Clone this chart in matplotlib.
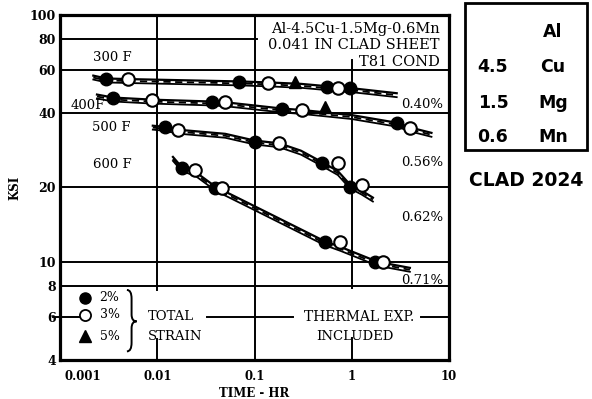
import numpy as np
import matplotlib.pyplot as plt
from matplotlib.path import Path
from matplotlib.patches import PathPatch

# stress-rupture style curves, time in hours vs stress in ksi
# line knots for each temperature
t_300 = [0.0022, 0.003, 0.005, 0.07, 0.14, 0.3, 0.72, 1.0, 2.9]
s_300 = [56.8, 55.3, 55.0, 53.8, 53.3, 52.6, 51.0, 50.5, 48.2]
t_400 = [0.0024, 0.0035, 0.0088, 0.037, 0.05, 0.19, 0.31, 1.0, 2.9, 4.0, 6.6]
s_400 = [47.6, 46.3, 45.4, 44.6, 44.3, 41.8, 41.2, 39.3, 36.6, 35.0, 33.3]
t_500 = [0.009, 0.012, 0.0163, 0.05, 0.1, 0.18, 0.3, 0.49, 0.72, 0.955, 1.27, 1.65]
s_500 = [35.6, 35.2, 34.3, 33.0, 31.0, 30.2, 28.2, 25.4, 23.3, 20.6, 19.4, 18.2]
t_600 = [0.0145, 0.018, 0.0244, 0.04, 0.1, 0.53, 0.76, 1.73, 2.1, 3.96]
s_600 = [26.6, 24.1, 23.2, 20.1, 16.8, 12.1, 11.5, 10.1, 9.9, 9.45]

# plotted test points (2% filled, 3% open, 5% triangle)
f_t = {'300': [0.003, 0.07, 0.55, 0.955], '400': [0.0035, 0.0365, 0.19, 2.9],
       '500': [0.012, 0.10, 0.49, 0.955], '600': [0.0179, 0.039, 0.528, 1.73]}
f_s = {'300': [55.0, 53.6, 51.1, 50.6], '400': [46.1, 44.5, 41.6, 36.5],
       '500': [35.2, 30.6, 25.2, 20.1], '600': [23.9, 19.9, 12.0, 10.0]}
o_t = {'300': [0.005, 0.137, 0.72], '400': [0.0088, 0.05, 0.31, 3.96],
       '500': [0.0163, 0.18, 0.72, 1.27], '600': [0.0244, 0.0462, 0.755, 2.09]}
o_s = {'300': [54.8, 53.1, 50.6], '400': [45.3, 44.5, 41.2, 34.9],
       '500': [34.2, 30.3, 25.2, 20.5], '600': [23.6, 19.9, 12.0, 10.0]}
tri_t = {'300': [0.26], '400': [0.53]}
tri_s = {'300': [53.6], '400': [42.4]}

temp_labels = ['300 F', '400F', '500 F', '600 F']
strain_labels = ['0.40%', '0.56%', '0.62%', '0.71%']
x_ticks = [0.001, 0.01, 0.1, 1, 10]
x_labels = ['0.001', '0.01', '0.1', '1', '10']
y_ticks = [4, 6, 8, 10, 20, 40, 60, 80, 100]
y_labels = ['4', '6', '8', '10', '20', '40', '60', '80', '100']

serif = 'DejaVu Serif'
fig = plt.figure(figsize=(5.92, 3.99), dpi=100)
ax = fig.add_axes([60/592, 1-360/399, 389/592, 345/399])
ax.set_xscale('log')
ax.set_yscale('log')
ax.set_xlim(0.001, 10)
ax.set_ylim(4, 100)
ax.minorticks_off()
ax.set_xticks(x_ticks)
ax.set_xticklabels([''] + x_labels[1:], family=serif, fontsize=8.5, fontweight='bold')
ax.set_yticks(y_ticks)
ax.set_yticklabels(y_labels, family=serif, fontsize=9, fontweight='bold')
ax.tick_params(axis='x', length=0, pad=7)
ax.tick_params(axis='y', length=0, pad=3)
# first x label sits inside the left edge
ax.text(0.00112, -0.028, x_labels[0], transform=ax.get_xaxis_transform(),
	ha='left', va='top', family=serif, fontsize=8.5, fontweight='bold')
for sp in ax.spines.values():
	sp.set_linewidth(2.3)

# grid (partly broken by the text blocks)
gl = dict(color='black', lw=1.4, zorder=1)
for yv in [8, 10, 20, 40, 60]:
	ax.axhline(yv, **gl)
ax.axhline(80, xmax=0.506, **gl)
ax.axvline(0.1, **gl)
ax.plot([0.01, 0.01], [4, 4.85], **gl)
ax.plot([0.01, 0.01], [7.7, 100], **gl)
ax.plot([1, 1], [4, 4.9], **gl)
ax.plot([1, 1], [7.8, 66], **gl)
ax.plot([0.00085, 0.00155], [6, 6], clip_on=False, **gl)
ax.plot([0.0325, 0.25], [6, 6], **gl)
ax.plot([5.1, 10], [6, 6], **gl)

# curves: solid 2%, dashed 3%, solid 5% band
for tt, ss in [(t_300, s_300), (t_400, s_400), (t_500, s_500), (t_600, s_600)]:
	ss = np.array(ss)
	ax.plot(tt, ss, color='black', lw=1.6, zorder=2)
	ax.plot(tt, ss*0.982, color='black', lw=1.3, ls=(0, (4, 2.5)), zorder=2)
	ax.plot(tt, ss*0.964, color='black', lw=1.3, zorder=2)

for key in f_t:
	ax.plot(f_t[key], f_s[key], 'o', ms=9, color='black', zorder=3)
	ax.plot(o_t[key], o_s[key], 'o', ms=9, mfc='white', mec='black', mew=1.5, zorder=4)
for key in tri_t:
	ax.plot(tri_t[key], tri_s[key], '^', ms=8, color='black', zorder=3)

tk = dict(family=serif, fontsize=9.5, color='black')
ax.text(0.00342, 67.0, temp_labels[0], ha='center', va='center', **tk)
ax.text(0.00194, 40.6, temp_labels[1], ha='center', va='bottom', **tk)
ax.text(0.00334, 34.9, temp_labels[2], ha='center', va='center', **tk)
ax.text(0.00342, 24.9, temp_labels[3], ha='center', va='center', **tk)
for lab, yv in zip(strain_labels, [43.2, 25.2, 15.1, 8.4]):
	ax.text(8.7, yv, lab, ha='right', va='center', **tk)

hk = dict(family=serif, fontsize=10.5, ha='right', va='center')
ax.text(8.0, 88, 'Al-4.5Cu-1.5Mg-0.6Mn', **hk)
ax.text(8.0, 75.6, '0.041 IN CLAD SHEET', **hk)
ax.text(8.0, 64.5, 'T81 COND', **hk)

# strain legend
ax.plot([0.00181], [7.15], 'o', ms=8, color='black')
ax.plot([0.00181], [6.1], 'o', ms=8, mfc='white', mec='black', mew=1.3)
ax.plot([0.00181], [5.0], '^', ms=8, color='black')
for lab, yv in zip(['2%', '3%', '5%'], [7.15, 6.1, 5.0]):
	ax.text(0.00255, yv, lab, ha='left', va='center', family=serif, fontsize=9)

# curly brace drawn as a path in axes fraction
bx0, bxm, bx1 = 0.172, 0.184, 0.197
by0, bym, by1 = 0.025, 0.112, 0.203
verts = [(bx0, by1), (bxm, by1), (bxm, by1 - 0.025), (bxm, bym + 0.02),
	(bxm, bym), (bx1, bym), (bxm, bym), (bxm, bym - 0.02),
	(bxm, by0 + 0.025), (bxm, by0), (bx0, by0)]
codes = [Path.MOVETO, Path.CURVE3, Path.CURVE3, Path.LINETO,
	Path.CURVE3, Path.CURVE3, Path.CURVE3, Path.CURVE3,
	Path.LINETO, Path.CURVE3, Path.CURVE3]
ax.add_patch(PathPatch(Path(verts, codes), transform=ax.transAxes,
	fill=False, lw=1.4, color='black'))

ax.text(0.008, 6.0, 'TOTAL', ha='left', va='center', **tk)
ax.text(0.008, 5.0, 'STRAIN', ha='left', va='center', **tk)
ax.text(1.19, 6.0, 'THERMAL EXP.', ha='center', va='center', family=serif, fontsize=10)
ax.text(1.08, 5.0, 'INCLUDED', ha='center', va='center', **tk)

ax.set_xlabel('TIME - HR', family=serif, fontsize=8.5, fontweight='bold', labelpad=3)
ax.set_ylabel('KSI', family=serif, fontsize=8.5, fontweight='bold', labelpad=6)

# composition box
fig.patches.append(plt.Rectangle((465/592, 1-150/399), 122/592, 147/399,
	transform=fig.transFigure, fill=False, lw=2.0, color='black'))
bk = dict(family='DejaVu Sans', fontsize=12.5, fontweight='bold', ha='center', va='center')
fig.text(553/592, 1-32/399, 'Al', **bk)
for num, el, yp in [('4.5', 'Cu', 67), ('1.5', 'Mg', 103), ('0.6', 'Mn', 137)]:
	fig.text(493/592, 1-yp/399, num, **bk)
	fig.text(553/592, 1-yp/399, el, **bk)
fig.text(526/592, 1-180/399, 'CLAD 2024', family='DejaVu Sans', fontsize=13.5,
	fontweight='bold', ha='center', va='center')

plt.savefig('out.png', dpi=100)
